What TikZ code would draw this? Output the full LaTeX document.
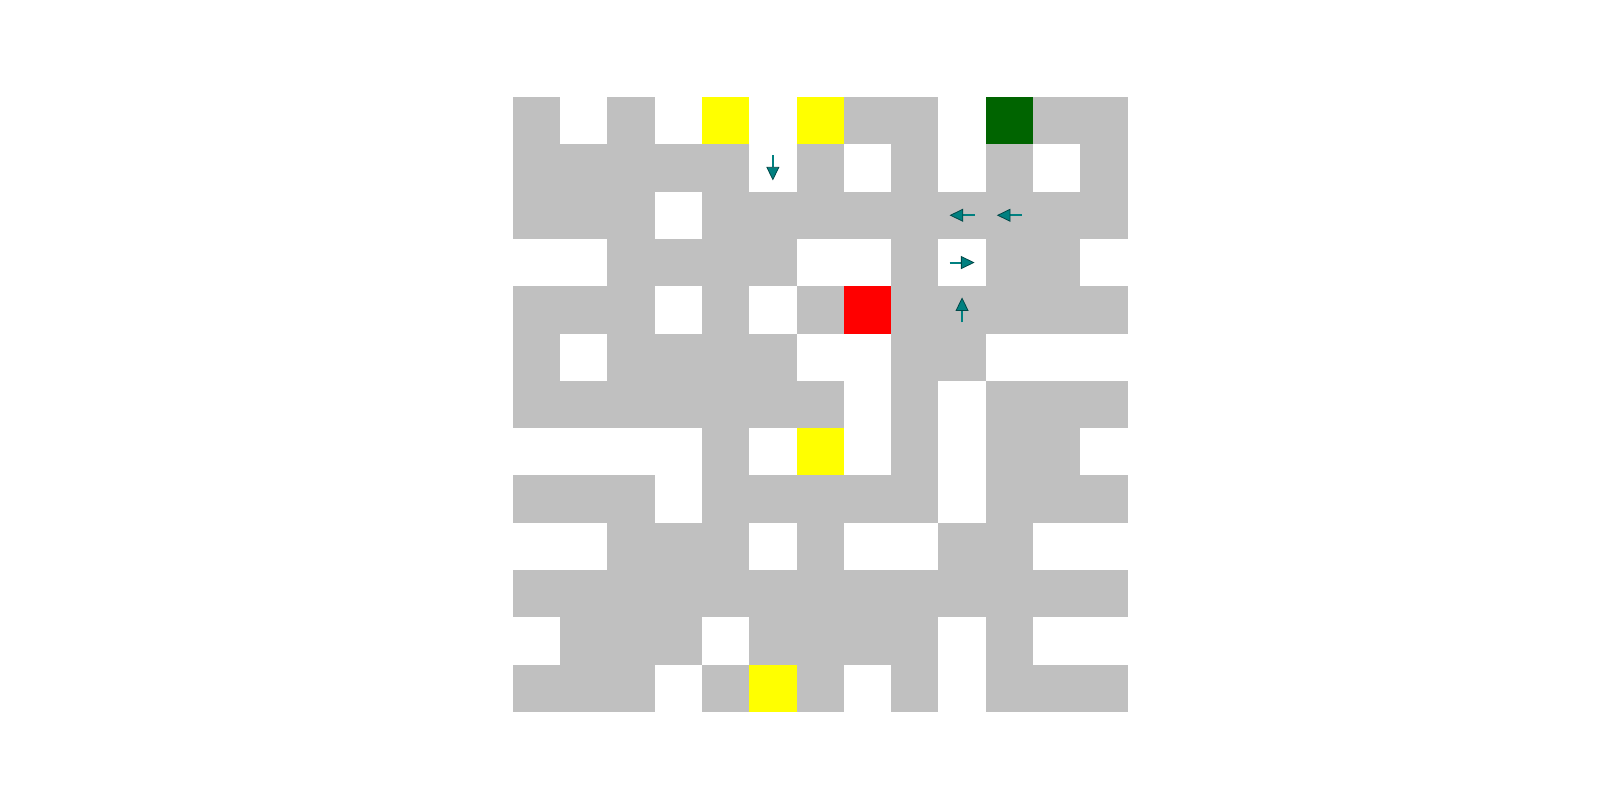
\documentclass[tikz,border=0pt]{standalone}
\usetikzlibrary{arrows.meta}
\definecolor{G}{HTML}{C0C0C0}
\definecolor{W}{HTML}{FFFFFF}
\definecolor{Y}{HTML}{FFFF00}
\definecolor{D}{HTML}{006400}
\definecolor{R}{HTML}{FF0000}
\definecolor{arrteal}{HTML}{008080}
\definecolor{arrdark}{HTML}{004848}
\tikzset{
  movearrow/.style={draw=arrteal, line width=1pt,
    -{Triangle[length=6.8pt,width=6.5pt,fill=arrteal,color=arrdark,line width=0.4pt]}}
}
\begin{document}
\begin{tikzpicture}[x=0.5pt,y=-0.5pt]
\useasboundingbox (0,0) rectangle (1600,800);
\fill[white] (0,0) rectangle (1600,800);
\foreach \row [count=\r from 0] in {
  {G,W,G,W,Y,W,Y,G,G,W,D,G,G},
  {G,G,G,G,G,W,G,W,G,W,G,W,G},
  {G,G,G,W,G,G,G,G,G,G,G,G,G},
  {W,W,G,G,G,G,W,W,G,W,G,G,W},
  {G,G,G,W,G,W,G,R,G,G,G,G,G},
  {G,W,G,G,G,G,W,W,G,G,W,W,W},
  {G,G,G,G,G,G,G,W,G,W,G,G,G},
  {W,W,W,W,G,W,Y,W,G,W,G,G,W},
  {G,G,G,W,G,G,G,G,G,W,G,G,G},
  {W,W,G,G,G,W,G,W,W,G,G,W,W},
  {G,G,G,G,G,G,G,G,G,G,G,G,G},
  {W,G,G,G,W,G,G,G,G,W,G,W,W},
  {G,G,G,W,G,Y,G,W,G,W,G,G,G}} {
  \foreach \c [count=\k from 0] in \row {
    \fill[\c] ({512.7+\k*47.3},{97+\r*47.3}) rectangle ++(47.3,47.3);
  }
}
% arrows: (col,row) centres
\coordinate (d1s) at ({512.7+5.5*47.3},{97+1.5*47.3-12.5});
\coordinate (d1e) at ({512.7+5.5*47.3},{97+1.5*47.3+12.5});
\coordinate (l1s) at ({512.7+9.5*47.3+12.5},{97+2.5*47.3});
\coordinate (l1e) at ({512.7+9.5*47.3-12.5},{97+2.5*47.3});
\coordinate (l2s) at ({512.7+10.5*47.3+12.5},{97+2.5*47.3});
\coordinate (l2e) at ({512.7+10.5*47.3-12.5},{97+2.5*47.3});
\coordinate (r1s) at ({512.7+9.5*47.3-12.5},{97+3.5*47.3});
\coordinate (r1e) at ({512.7+9.5*47.3+12.5},{97+3.5*47.3});
\coordinate (u1s) at ({512.7+9.5*47.3},{97+4.5*47.3+12.5});
\coordinate (u1e) at ({512.7+9.5*47.3},{97+4.5*47.3-12.5});
\draw[movearrow] (d1s) -- (d1e);
\draw[movearrow] (l1s) -- (l1e);
\draw[movearrow] (l2s) -- (l2e);
\draw[movearrow] (r1s) -- (r1e);
\draw[movearrow] (u1s) -- (u1e);
\end{tikzpicture}
\end{document}
